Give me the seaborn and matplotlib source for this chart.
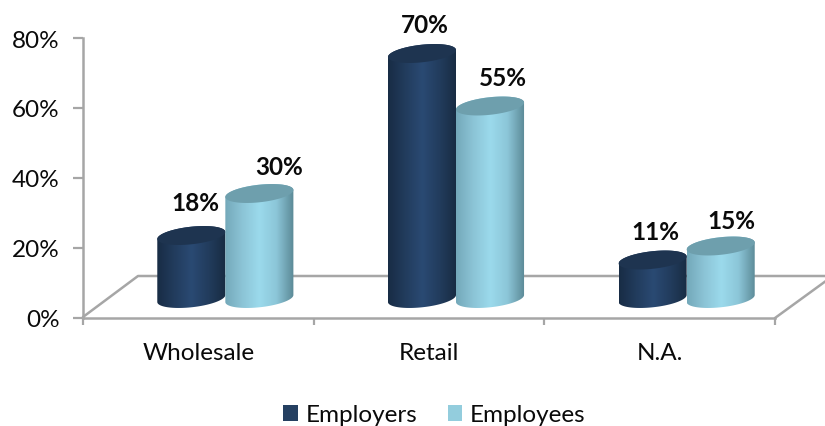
import numpy as np
import pandas as pd
import matplotlib
matplotlib.use("Agg")
import matplotlib.pyplot as plt
import seaborn as sns
from matplotlib.colors import LinearSegmentedColormap
from matplotlib.lines import Line2D
from matplotlib.patches import Patch, PathPatch, Polygon
from matplotlib.path import Path
from matplotlib.transforms import Affine2D

# Share of respondents per sector
sectors = ["Wholesale", "Retail", "N.A."]
employers = [18, 70, 11]
employees = [30, 55, 15]
series_names = ["Employers", "Employees"]
y_ticks = [0, 20, 40, 60, 80]

FRAME = "#A6A6A6"
TEXT = "#0A0A0A"
LEGEND_COLORS = ["#254061", "#93CDDD"]
TOP_COLORS = ["#1E3450", "#6E9FAD"]
BODY_STOPS = [
    ["#182C45", "#223C5D", "#2A4A73", "#223C5D", "#182B42"],
    ["#74A9BA", "#8CC4D6", "#9BDAEC", "#8CC6D8", "#5B8996"],
]
FONT_SIZE = 17.5

sns.set_theme(style="white", font="Lato")
plt.rcParams["font.family"] = ["Lato", "DejaVu Sans"]

W, H = 825, 427
fig = plt.figure(figsize=(W / 100, H / 100), dpi=100, facecolor="white")
to_fig = Affine2D().scale(1 / W, -1 / H).translate(0, 1) + fig.transFigure


def axes_box(left, right, top, bottom):
    return [left / W, 1 - bottom / H, (right - left) / W, (bottom - top) / H]


# Axis frame
ax = fig.add_axes(axes_box(83, 775, 39, 318.5))
ax.patch.set_alpha(0)
ax.set_xlim(0, 3)
ax.set_ylim(0, 80)
ax.set_yticks(y_ticks, [f"{v}%" for v in y_ticks])
ax.set_xticks(range(4), [""] * 4)
ax.set_xticks([0.5, 1.5, 2.5], sectors, minor=True)
ax.tick_params(axis="y", length=7, width=1.6, color=FRAME, labelsize=FONT_SIZE, labelcolor=TEXT, pad=10, left=True)
ax.tick_params(axis="x", which="major", length=5, width=1.6, color=FRAME, bottom=True)
ax.tick_params(axis="x", which="minor", length=0, labelsize=FONT_SIZE, labelcolor=TEXT, pad=18, bottom=False)
sns.despine(ax=ax)
for side in ("left", "bottom"):
    ax.spines[side].set_color(FRAME)
    ax.spines[side].set_linewidth(1.8)

# Perspective floor behind the columns
for xs, ys in [((83, 138, 830), (318, 277, 277)), ((775, 830), (319, 279))]:
    fig.add_artist(Line2D(xs, ys, color=FRAME, lw=1.8, transform=to_fig, clip_on=False, zorder=-1))

# Columns sit in an overlay offset towards the floor's depth
SCALE = 3.5
BASE = 299.5
bars_ax = fig.add_axes(axes_box(110, 802, BASE - 80 * SCALE, BASE + 10 * SCALE))
bars_ax.patch.set_alpha(0)

table = pd.DataFrame({
    "sector": sectors * 2,
    "share": employers + employees,
    "group": np.repeat(series_names, len(sectors)),
})
sns.barplot(data=table, x="sector", y="share", hue="group", hue_order=series_names,
            palette=LEGEND_COLORS, width=0.59, gap=0, dodge=True, legend=False, ax=bars_ax)
bars_ax.set_xlim(-0.5, 2.5)
bars_ax.set_ylim(-10, 80)
bars_ax.axis("off")

B = 8.8 / SCALE
TILT = 3.5 / SCALE
theta_low = np.linspace(np.pi, 2 * np.pi, 60)
theta_high = np.linspace(0, np.pi, 60)
theta_full = np.linspace(0, 2 * np.pi, 120)


def rim(cx, half, cy, t):
    return np.column_stack([cx + half * np.cos(t), cy + B * np.sin(t) + TILT * np.cos(t)])


label_offsets = [
    [(4, 33), (3, 29), (3, 28)],
    [(20, 27), (13, 28), (11, 25)],
]

order = 3
for k, container in enumerate(bars_ax.containers):
    cmap = LinearSegmentedColormap.from_list(series_names[k], BODY_STOPS[k])
    gradient = np.linspace(0, 1, 128)[None, :]
    for j, bar in enumerate(container):
        bar.set_visible(False)
        x0, half, value = bar.get_x(), bar.get_width() / 2, bar.get_height()
        cx = x0 + half
        outline = np.vstack([rim(cx, half, 0, theta_low), rim(cx, half, value, theta_high)])
        clip = PathPatch(Path(np.vstack([outline, outline[:1]]), closed=True),
                         transform=bars_ax.transData, facecolor="none", edgecolor="none")
        bars_ax.add_patch(clip)
        image = bars_ax.imshow(gradient, cmap=cmap, aspect="auto", zorder=order,
                               extent=(x0, x0 + 2 * half, -10, value + 10), interpolation="bilinear")
        image.set_clip_path(clip)
        bars_ax.add_patch(Polygon(rim(cx, half, value, theta_full), closed=True,
                                  facecolor=TOP_COLORS[k], edgecolor="none", zorder=order + 0.5))
        bars_ax.annotate(f"{value:.0f}%", xy=(cx, value), xytext=label_offsets[k][j],
                         textcoords="offset pixels", ha="center", va="center",
                         fontsize=FONT_SIZE, fontweight="bold", color=TEXT, zorder=10)
        order += 1
bars_ax.set_xlim(-0.5, 2.5)
bars_ax.set_ylim(-10, 80)

# Legend below the plot
handles = [Patch(facecolor=c, edgecolor="none") for c in LEGEND_COLORS]
fig.legend(handles, series_names, loc="center", bbox_to_anchor=(434.5 / W, 1 - 416 / H),
           ncol=2, frameon=False, fontsize=FONT_SIZE, labelcolor=TEXT,
           handlelength=0.6, handleheight=0.6, handletextpad=0.32, columnspacing=1.25)

fig.savefig("out.png", dpi=100, facecolor="white")
